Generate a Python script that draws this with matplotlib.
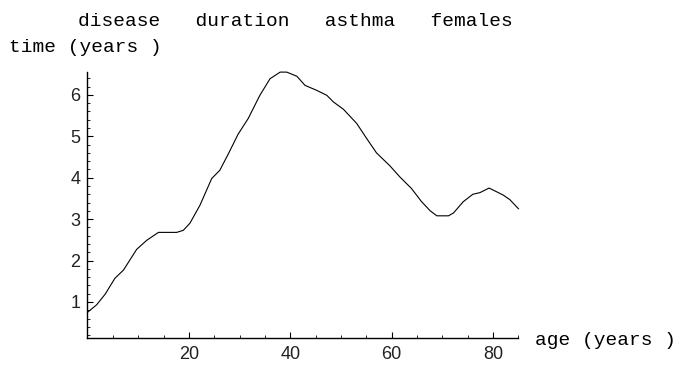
import matplotlib.pyplot as plt
from matplotlib.ticker import MultipleLocator

# disease duration of asthma, females
age = [0, 1.8, 3.5, 5.4, 7.1, 9.7, 11.7, 14, 17.6, 18.9, 20.2, 22.2, 24.5, 26.1,
       27.8, 29.7, 31.7, 34, 35, 36, 38, 39.3, 41.3, 42.9, 45.2, 47.2, 48.5,
       50.5, 53.1, 55.1, 57, 59.7, 61.6, 63.9, 65.9, 67.6, 68.9, 71.2, 72.2,
       74.1, 76, 77.4, 79.2, 80.7, 82, 83.3, 85]
duration = [0.75, 0.93, 1.19, 1.57, 1.77, 2.27, 2.49, 2.68, 2.68, 2.73, 2.9, 3.34,
            3.98, 4.18, 4.58, 5.05, 5.43, 5.99, 6.19, 6.39, 6.55, 6.55, 6.45,
            6.23, 6.11, 5.99, 5.83, 5.65, 5.31, 4.94, 4.6, 4.28, 4.02, 3.74, 3.42,
            3.2, 3.08, 3.08, 3.15, 3.42, 3.6, 3.64, 3.75, 3.66, 3.58, 3.47, 3.25]

x_ticks = [20, 40, 60, 80]
y_ticks = [1, 2, 3, 4, 5, 6]

fig = plt.figure(figsize=(6.75, 3.74), dpi=100)
ax = fig.add_axes([0.1296, 0.0963, 0.6385, 0.712])

ax.plot(age, duration, color='black', lw=0.8, clip_on=False,
        solid_joinstyle='round')

ax.set_xlim(0, 85)
ax.set_ylim(0.13, 6.56)
ax.set_xticks(x_ticks)
ax.set_yticks(y_ticks)
ax.xaxis.set_minor_locator(MultipleLocator(5))
ax.yaxis.set_minor_locator(MultipleLocator(0.2))

for s in ['top', 'right']:
    ax.spines[s].set_visible(False)
for s in ['left', 'bottom']:
    ax.spines[s].set_linewidth(1.0)

ax.tick_params(which='major', direction='in', length=4.5, width=0.8,
               labelsize=13, labelcolor='#222222',
               labelfontfamily='Liberation Sans')
ax.tick_params(which='minor', direction='in', length=2.2, width=0.6)
ax.tick_params(axis='x', pad=6)
ax.tick_params(axis='y', pad=5)

mono = 'Liberation Mono'
fig.text(78 / 675, 1 - 26 / 374, 'disease   duration   asthma   females',
         family=mono, fontsize=14, va='baseline', ha='left')
fig.text(9 / 675, 1 - 52 / 374, 'time (years )',
         family=mono, fontsize=14, va='baseline', ha='left')
fig.text(535 / 675, 1 - 345 / 374, 'age (years )',
         family=mono, fontsize=14, va='baseline', ha='left')

fig.savefig('out.png', dpi=100)
